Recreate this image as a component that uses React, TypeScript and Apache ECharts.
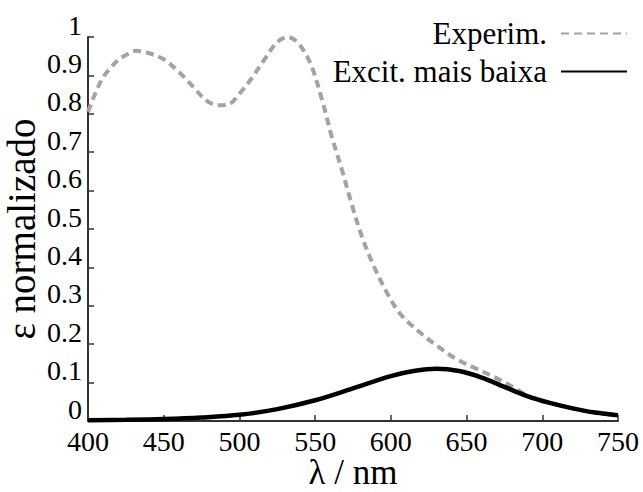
import React, { useEffect, useRef } from "react";
import * as echarts from "echarts";

// Experimental spectrum (nm, normalised ε)
const expWavelength = [400, 405, 410, 415, 420, 425, 432, 440, 450, 460, 470, 478, 486, 493, 500, 508, 517, 525, 532, 539, 547, 555, 561, 568, 574, 581, 588, 597, 606, 617, 630, 643, 656, 668, 680, 690, 705, 720, 735, 750];
const expEpsilon = [0.805, 0.855, 0.895, 0.92, 0.94, 0.953, 0.964, 0.958, 0.942, 0.909, 0.868, 0.835, 0.822, 0.825, 0.852, 0.892, 0.944, 0.987, 1.0, 0.983, 0.93, 0.83, 0.74, 0.65, 0.566, 0.479, 0.41, 0.337, 0.28, 0.238, 0.197, 0.162, 0.137, 0.115, 0.09, 0.067, 0.047, 0.033, 0.022, 0.015];

// Lowest-excitation band (nm, normalised ε)
const calcWavelength = [400, 425, 450, 475, 500, 525, 550, 575, 600, 615, 630, 645, 660, 675, 690, 705, 720, 735, 750];
const calcEpsilon = [0.002, 0.003, 0.005, 0.009, 0.016, 0.031, 0.054, 0.085, 0.117, 0.13, 0.136, 0.13, 0.113, 0.089, 0.065, 0.047, 0.033, 0.022, 0.015];

const seriesNames = ["Experim.", "Excit. mais baixa"];
const yTicks = ["0", "0.1", "0.2", "0.3", "0.4", "0.5", "0.6", "0.7", "0.8", "0.9", "1"];

const FONT = "Liberation Serif";

export default function App() {
  const ref = useRef<HTMLDivElement>(null);

  useEffect(() => {
    if (!ref.current) return;
    const chart = echarts.init(ref.current, null, { renderer: "svg" });
    const pair = (xs: number[], ys: number[]) => xs.map((x, i) => [x, ys[i]]);

    chart.setOption({
      animation: false,
      backgroundColor: "#ffffff",
      textStyle: { fontFamily: FONT },
      grid: { left: 88, right: 25, top: 37, bottom: 71, outerBoundsMode: "none", containLabel: false },
      legend: {
        orient: "vertical",
        right: 15,
        top: 18,
        padding: 0,
        align: "right",
        itemWidth: 66,
        itemHeight: 20,
        itemGap: 7,
        selectedMode: false,
        itemStyle: { opacity: 0, borderWidth: 0 },
        textStyle: { fontFamily: FONT, fontSize: 31, color: "#000", padding: [0, 9, 0, 0] },
        data: seriesNames,
      },
      xAxis: {
        type: "value",
        min: 400,
        max: 750,
        interval: 50,
        name: "λ / nm",
        nameLocation: "middle",
        nameGap: 37,
        nameMoveOverlap: false,
        nameTextStyle: { fontFamily: FONT, fontSize: 35, lineHeight: 28, color: "#000" },
        axisLine: { show: true, lineStyle: { color: "#333", width: 2 } },
        axisTick: { show: true, inside: true, length: 6, lineStyle: { color: "#333", width: 1.5 } },
        axisLabel: { fontFamily: FONT, fontSize: 28, color: "#000", margin: 6 },
        splitLine: { show: false },
      },
      yAxis: {
        type: "value",
        min: 0,
        max: 1,
        interval: 0.1,
        name: "ε normalizado",
        nameLocation: "middle",
        nameRotate: 90,
        nameGap: 50,
        nameMoveOverlap: false,
        nameTextStyle: { fontFamily: FONT, fontSize: 39, lineHeight: 34, color: "#000" },
        axisLine: { show: true, lineStyle: { color: "#333", width: 2 } },
        axisTick: { show: true, inside: true, length: 6, lineStyle: { color: "#333", width: 1.5 } },
        axisLabel: {
          fontFamily: FONT,
          fontSize: 28,
          color: "#000",
          margin: 6,
          verticalAlign: "bottom",
          lineHeight: 24,
          formatter: (v: number) => yTicks[Math.round(v * 10)],
        },
        splitLine: { show: false },
      },
      series: [
        {
          name: seriesNames[0],
          type: "line",
          data: pair(expWavelength, expEpsilon),
          smooth: 0.35,
          symbol: "none",
          z: 2,
          lineStyle: { color: "#a3a3a5", width: 4, type: [8, 5] },
          itemStyle: { color: "#a3a3a5" },
        },
        {
          name: seriesNames[1],
          type: "line",
          data: pair(calcWavelength, calcEpsilon),
          smooth: 0.35,
          symbol: "none",
          z: 3,
          lineStyle: { color: "#000", width: 4.5 },
          itemStyle: { color: "#000" },
        },
      ],
    });

    return () => chart.dispose();
  }, []);

  return <div ref={ref} style={{ width: 643, height: 492, position: "absolute", left: 0, top: 0 }} />;
}
